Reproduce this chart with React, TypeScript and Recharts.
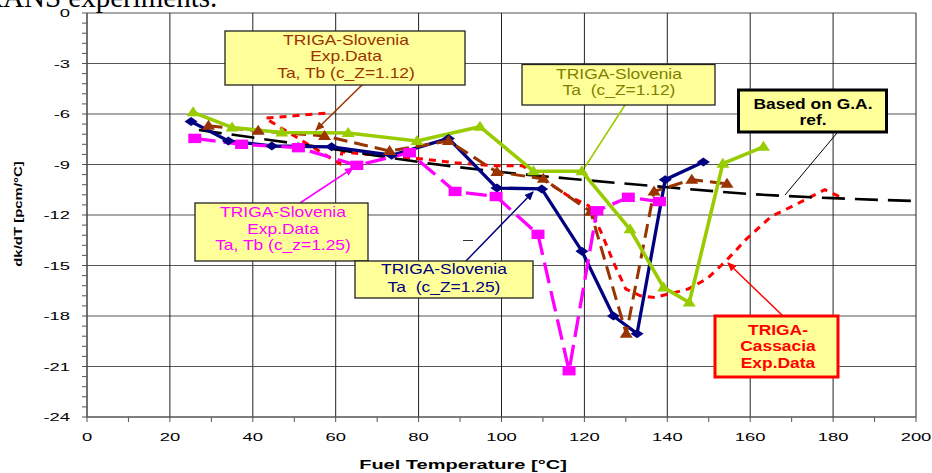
import React from 'react';
import { LineChart, Line, XAxis, YAxis, CartesianGrid } from 'recharts';

// axis ticks (minor ticks carry no label)
const xTicks = [0, 10, 20, 30, 40, 50, 60, 70, 80, 90, 100, 110, 120, 130, 140, 150, 160, 170, 180, 190, 200];
const xGrid = [0, 20, 40, 60, 80, 100, 120, 140, 160, 180, 200];
const yTicks = [
  0, -0.6, -1.2, -1.8, -2.4, -3, -3.6, -4.2, -4.8, -5.4, -6, -6.6, -7.2, -7.8, -8.4, -9, -9.6, -10.2, -10.8, -11.4,
  -12, -12.6, -13.2, -13.8, -14.4, -15, -15.6, -16.2, -16.8, -17.4, -18, -18.6, -19.2, -19.8, -20.4, -21, -21.6,
  -22.2, -22.8, -23.4, -24,
];
const yGrid = [0, -3, -6, -9, -12, -15, -18, -21, -24];

// TRIGA-Slovenia Ta (c_Z=1.25)
const navyT = [25.1, 34.1, 44.6, 59, 73.5, 87.2, 98.9, 109.7, 119.4, 127, 132.7, 139.5, 148.7];
const navyV = [-6.45, -7.6, -7.9, -7.95, -8.45, -7.45, -10.4, -10.45, -14.15, -18.0, -19.05, -9.9, -8.85];

// TRIGA-Slovenia Ta (c_Z=1.12)
const greenT = [25.6, 35, 47, 63, 79.6, 94.8, 107.7, 119.4, 131, 139.1, 145.3, 153.4, 163.2];
const greenV = [-5.9, -6.8, -7.1, -7.13, -7.6, -6.75, -9.4, -9.4, -12.85, -16.3, -17.2, -8.95, -7.95];

// TRIGA-Slovenia Exp.Data Ta, Tb (c_Z=1.12)
const brownT = [29.3, 41.3, 57.3, 73, 87.2, 98.9, 110.1, 121.5, 130.1, 136.8, 145.9, 154.4];
const brownV = [-6.7, -7.0, -7.3, -8.2, -7.6, -9.45, -9.85, -11.8, -19.05, -10.6, -9.9, -10.15];

// TRIGA-Slovenia Exp.Data Ta, Tb (c_z=1.25)
const pinkT = [26, 37.3, 51, 65.1, 77.8, 88.8, 98.7, 108.8, 116.3, 123, 130.6, 138.1];
const pinkV = [-7.45, -7.8, -8.0, -9.05, -8.3, -10.6, -10.9, -13.15, -21.25, -11.75, -10.95, -11.2];

// TRIGA-Cassacia Exp.Data
const redT = [57.5, 43, 61, 61.5, 68, 82, 89, 98, 105, 116, 121, 124, 127, 130, 133.5, 137, 141, 145, 149.5, 153, 156, 159, 165, 170, 174, 178, 182];
const redV = [-5.95, -6.25, -8.95, -8.25, -8.4, -8.7, -8.9, -9.07, -9.07, -10.85, -11.45, -13.0, -14.8, -16.4, -16.8, -16.9, -16.65, -16.4, -15.8, -15.0, -14.25, -13.45, -12.1, -11.5, -11.0, -10.5, -10.95];

// Based on G.A. ref.
const gaT = [27, 40, 60, 80, 100, 120, 140, 160, 180, 200];
const gaV = [-6.95, -7.4, -8.1, -8.85, -9.45, -9.92, -10.35, -10.75, -11.0, -11.17];

const zip = (t: number[], v: number[]) => t.map((x, i) => ({ t: x, v: v[i] }));

const NAVY = '#000080';
const GREEN = '#99CC00';
const BROWN = '#993300';
const PINK = '#FF00FF';
const RED = '#FF0000';
const FONT = '"Liberation Sans", Arial, sans-serif';

const diamond = (color: string) => (p: any) => (
  <path key={`d${p.index}`} d={`M${p.cx},${p.cy - 4.5}L${p.cx + 6.5},${p.cy}L${p.cx},${p.cy + 4.5}L${p.cx - 6.5},${p.cy}Z`} fill={color} />
);
const triangle = (color: string) => (p: any) => (
  <path key={`t${p.index}`} d={`M${p.cx},${p.cy - 6}L${p.cx + 6.5},${p.cy + 4}L${p.cx - 6.5},${p.cy + 4}Z`} fill={color} />
);
const square = (color: string) => (p: any) => (
  <rect key={`s${p.index}`} x={p.cx - 6.5} y={p.cy - 4.7} width={13} height={9.4} fill={color} />
);

const XTick = (props: any) => {
  const { x, y, payload } = props;
  if (payload.value % 20 !== 0) return <g />;
  return (
    <text transform={`translate(${x},${y + 19}) scale(1.6,1)`} textAnchor="middle" fontSize={11.5} fontFamily={FONT} fill="#000">
      {payload.value}
    </text>
  );
};

const YTick = (props: any) => {
  const { x, y, payload } = props;
  if (payload.value % 3 !== 0) return <g />;
  return (
    <text transform={`translate(${x - 12},${y + 4}) scale(1.6,1)`} textAnchor="end" fontSize={11.5} fontFamily={FONT} fill="#000">
      {payload.value === 0 ? '0' : payload.value}
    </text>
  );
};

type Callout = {
  x: number; y: number; w: number; h: number;
  lines: string[]; color: string; cx: number; base: number[];
  bold?: boolean; border: string; bw: number;
};

const callouts: Callout[] = [
  { x: 225, y: 31, w: 240, h: 54, lines: ['TRIGA-Slovenia', 'Exp.Data', 'Ta, Tb (c_Z=1.12)'], color: BROWN, cx: 346, base: [45, 61, 77.5], border: '#222', bw: 1.3 },
  { x: 522, y: 64.5, w: 193, h: 40.5, lines: ['TRIGA-Slovenia', 'Ta  (c_Z=1.12)'], color: '#808000', cx: 619, base: [78.5, 95], border: '#222', bw: 1.3 },
  { x: 738.5, y: 90, w: 148, h: 42, lines: ['Based on G.A.', 'ref.'], color: '#000', cx: 813, base: [109, 124.5], bold: true, border: '#000', bw: 3 },
  { x: 195, y: 203, w: 173, h: 58, lines: ['TRIGA-Slovenia', 'Exp.Data', 'Ta, Tb (c_z=1.25)'], color: PINK, cx: 283, base: [217, 234, 250], border: '#222', bw: 1.3 },
  { x: 355, y: 261, w: 178, h: 37, lines: ['TRIGA-Slovenia', 'Ta  (c_Z=1.25)'], color: NAVY, cx: 444, base: [274, 291.5], border: '#222', bw: 1.3 },
  { x: 715, y: 316, w: 123, h: 61, lines: ['TRIGA-', 'Cassacia', 'Exp.Data'], color: RED, cx: 778, base: [335, 351, 368], bold: true, border: RED, bw: 3 },
];

const pointers = [
  { x1: 363, y1: 84, x2: 316, y2: 130, color: BROWN, w: 1.5, head: 'brown' },
  { x1: 625, y1: 105, x2: 585, y2: 167, color: GREEN, w: 1.6, head: '' },
  { x1: 837, y1: 133, x2: 785, y2: 195, color: '#000', w: 1, head: '' },
  { x1: 300, y1: 203, x2: 353, y2: 168, color: PINK, w: 1.5, head: 'pink' },
  { x1: 465, y1: 262, x2: 533, y2: 192, color: NAVY, w: 1.5, head: 'navy' },
  { x1: 783, y1: 316, x2: 728, y2: 263, color: RED, w: 1.5, head: 'red' },
];

const heads: [string, string][] = [['brown', BROWN], ['pink', PINK], ['navy', NAVY], ['red', RED]];

export default function App() {
  return (
    <div style={{ position: 'absolute', left: 0, top: 0, width: 932, height: 473, background: '#fff', overflow: 'hidden' }}>
      <LineChart width={932} height={473} margin={{ top: 13, right: 16, bottom: 26, left: 27 }}>
        <CartesianGrid vertical={false} horizontalValues={yGrid} stroke="#555" strokeWidth={1.2} />
        <CartesianGrid horizontal={false} verticalValues={xGrid} stroke="#222" strokeWidth={1} />
        <XAxis
          type="number"
          dataKey="t"
          domain={[0, 200]}
          ticks={xTicks}
          interval={0}
          tickSize={5}
          tickMargin={0}
          height={30}
          stroke="#555"
          tick={<XTick />}
        />
        <YAxis
          type="number"
          dataKey="v"
          domain={[-24, 0]}
          ticks={yTicks}
          interval={0}
          tickSize={5}
          tickMargin={0}
          width={60}
          stroke="#555"
          tick={<YTick />}
        />
        <Line data={zip(redT, redV)} dataKey="v" type="linear" stroke={RED} strokeWidth={3} strokeDasharray="7 6" dot={false} isAnimationActive={false} />
        <Line data={zip(gaT, gaV)} dataKey="v" type="monotone" stroke="#000" strokeWidth={2.6} strokeDasharray="23 10" dot={false} isAnimationActive={false} />
        <Line data={zip(navyT, navyV)} dataKey="v" type="linear" stroke={NAVY} strokeWidth={3.3} dot={diamond(NAVY)} isAnimationActive={false} />
        <Line data={zip(brownT, brownV)} dataKey="v" type="linear" stroke={BROWN} strokeWidth={3} strokeDasharray="14 7" dot={triangle(BROWN)} isAnimationActive={false} />
        <Line data={zip(pinkT, pinkV)} dataKey="v" type="linear" stroke={PINK} strokeWidth={3.3} strokeDasharray="21 8" dot={square(PINK)} isAnimationActive={false} />
        <Line data={zip(greenT, greenV)} dataKey="v" type="linear" stroke={GREEN} strokeWidth={3.6} dot={triangle(GREEN)} isAnimationActive={false} />
      </LineChart>
      <svg width={932} height={473} style={{ position: 'absolute', left: 0, top: 0, pointerEvents: 'none' }}>
        <defs>
          {heads.map(([id, c]) => (
            <marker key={id} id={`ah-${id}`} markerWidth={9} markerHeight={8} refX={8} refY={4} orient="auto" markerUnits="userSpaceOnUse">
              <path d="M0,0L9,4L0,8Z" fill={c} />
            </marker>
          ))}
        </defs>
        <text x={-34} y={7} fontFamily='"Liberation Serif", "Times New Roman", serif' fontSize={29} fill="#000">
          TRANS experiments.
        </text>
        <text transform="translate(21.7,214) rotate(-90) scale(1.3,1)" textAnchor="middle" fontFamily={FONT} fontWeight="bold" fontSize={11.5} fill="#000">
          dk/dT [pcm/°C]
        </text>
        <text transform="translate(463,469) scale(1.54,1)" textAnchor="middle" fontFamily={FONT} fontWeight="bold" fontSize={13} fill="#000">
          Fuel Temperature [°C]
        </text>
        <line x1={463} y1={240.5} x2={473} y2={240.5} stroke="#333" strokeWidth={1} />
        {pointers.map((p, i) => (
          <line key={i} x1={p.x1} y1={p.y1} x2={p.x2} y2={p.y2} stroke={p.color} strokeWidth={p.w} markerEnd={p.head ? `url(#ah-${p.head})` : undefined} />
        ))}
        {callouts.map((c, i) => (
          <g key={i}>
            <rect x={c.x} y={c.y} width={c.w} height={c.h} fill="#FFFF99" stroke={c.border} strokeWidth={c.bw} />
            {c.lines.map((s, j) => (
              <text
                key={j}
                transform={`translate(${c.cx},${c.base[j]}) scale(1.245,1)`}
                textAnchor="middle"
                fontFamily={FONT}
                fontWeight={c.bold ? 'bold' : 'normal'}
                fontSize={14}
                fill={c.color}
                style={{ whiteSpace: 'pre' }}
              >
                {s}
              </text>
            ))}
          </g>
        ))}
      </svg>
    </div>
  );
}
